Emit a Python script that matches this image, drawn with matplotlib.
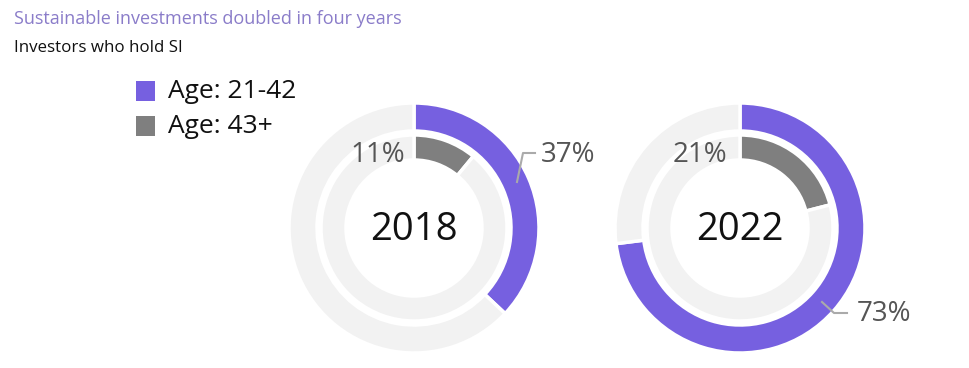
import matplotlib
matplotlib.use("Agg")
import matplotlib.pyplot as plt

years = ["2018", "2022"]
young = [37, 73]   # Age: 21-42 (outer ring)
old = [11, 21]     # Age: 43+ (inner ring)
legend_labels = ["Age: 21-42", "Age: 43+"]

PURPLE = "#7660e0"
GRAY = "#7f7f7f"
TRACK = "#f2f2f2"
LABEL = "#555555"

plt.rcParams['font.family'] = ['Open Sans', 'DejaVu Sans']

W, H = 969, 368
fig = plt.figure(figsize=(W / 100, H / 100), dpi=100)

fig.text(14 / W, 1 - 19 / H, "Sustainable investments doubled in four years",
         color="#8a7cc9", fontsize=13, va="center", ha="left")
fig.text(14 / W, 1 - 48 / H, "Investors who hold SI",
         color="#111111", fontsize=12.2, va="center", ha="left")

centers = [(414, 228), (740, 228)]
R = 125.0
half = 132.0

for i, (cx, cy) in enumerate(centers):
    ax = fig.add_axes([(cx - half) / W, (H - cy - half) / H, 2 * half / W, 2 * half / H])
    # outer ring
    ax.pie([young[i], 100 - young[i]], radius=1.0, startangle=90, counterclock=False,
           colors=[PURPLE, TRACK],
           wedgeprops=dict(width=28 / R, edgecolor="white", linewidth=2.5))
    # inner ring
    ax.pie([old[i], 100 - old[i]], radius=93 / R, startangle=90, counterclock=False,
           colors=[GRAY, TRACK],
           wedgeprops=dict(width=25 / R, edgecolor="white", linewidth=2.5))
    ax.set_xlim(-half / R, half / R)
    ax.set_ylim(-half / R, half / R)
    ax.set_aspect("equal")
    ax.axis("off")
    ax.text(0, -0.02, years[i], ha="center", va="center", fontsize=27.5, color="#111111")


def fx(x):
    return x / W


def fy(y):
    return 1 - y / H


fig.text(fx(378), fy(155), f"{old[0]}%", ha="center", va="center", fontsize=20, color=LABEL)
fig.text(fx(541), fy(155), f"{young[0]}%", ha="left", va="center", fontsize=20, color=LABEL)
fig.add_artist(plt.Line2D([fx(517), fx(523), fx(535)], [fy(182), fy(153), fy(153)],
                          color="#aaaaaa", lw=1.5))

fig.text(fx(700), fy(155), f"{old[1]}%", ha="center", va="center", fontsize=20, color=LABEL)
fig.text(fx(857), fy(314), f"{young[1]}%", ha="left", va="center", fontsize=20, color=LABEL)
fig.add_artist(plt.Line2D([fx(822), fx(834), fx(847)], [fy(302), fy(313), fy(313)],
                          color="#aaaaaa", lw=1.5))

for j, (lab, col) in enumerate(zip(legend_labels, [PURPLE, GRAY])):
    y = 91 + j * 35
    fig.add_artist(plt.Rectangle((fx(136), fy(y + 10)), 19 / W, 20 / H,
                                 facecolor=col, edgecolor="none"))
    fig.text(fx(168), fy(y), lab, ha="left", va="center", fontsize=19, color="#111111")

fig.savefig("out.png", dpi=100, facecolor="white")
